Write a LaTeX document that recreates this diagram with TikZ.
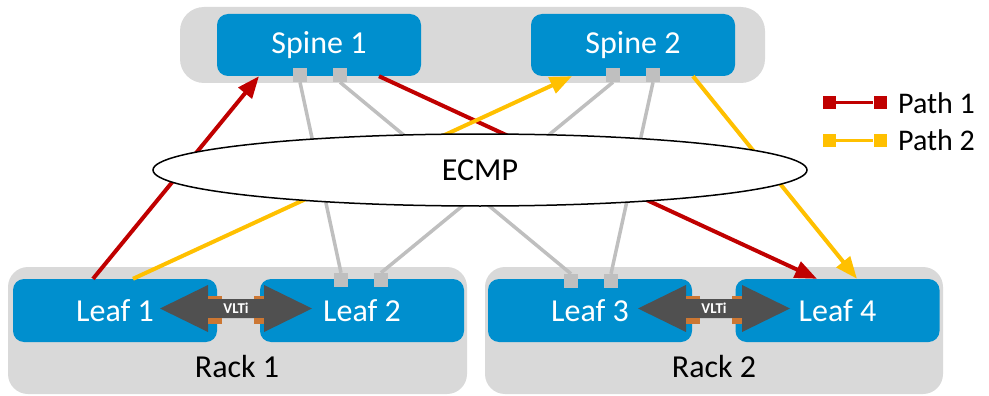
\documentclass[tikz,border=0pt]{standalone}
\usepackage{fontspec}
\setmainfont{Carlito}
\usetikzlibrary{shapes.geometric,arrows.meta,calc}
\definecolor{boxblue}{RGB}{0,143,206}
\definecolor{grpgray}{RGB}{217,217,217}
\definecolor{linkgray}{RGB}{191,191,191}
\definecolor{pathred}{RGB}{192,0,0}
\definecolor{pathyellow}{RGB}{255,192,0}
\definecolor{vltigray}{RGB}{80,80,80}
\definecolor{vltiorange}{RGB}{204,119,51}
\tikzset{
  vlti/.pic={
    \fill[vltigray] (-76,0) -- (-28,-23.5) -- (-28,-9.5) -- (28,-9.5) -- (28,-23.5) -- (76,0)
      -- (28,23.5) -- (28,9.5) -- (-28,9.5) -- (-28,23.5) -- cycle;
    \fill[vltiorange] (-28,-12.5) rectangle (-14,-9.5);
    \fill[vltiorange] (18,-12.5) rectangle (28,-9.5);
    \fill[vltiorange] (-28,9.5) rectangle (-14,15);
    \fill[vltiorange] (18,9.5) rectangle (28,15);
    \node[text=white, font=\bfseries\fontsize{15}{17}\selectfont, inner sep=0pt] (lbl) at (0,0) {VLTi};
  }
}
\begin{document}
\begin{tikzpicture}[x=1pt,y=-1pt,
  devbox/.style={fill=boxblue, draw=none, rounded corners=11pt, minimum width=204pt,
    minimum height=62pt, text=white, font=\fontsize{32}{38}\selectfont, inner sep=0pt},
  port/.style={fill=linkgray, draw=none, minimum size=14pt, inner sep=0pt},
  link/.style={draw=linkgray, line width=3.5pt},
  redpath/.style={draw=pathred, line width=4pt, -{Triangle[length=22pt,width=17pt]}},
  yelpath/.style={draw=pathyellow, line width=4pt, -{Triangle[length=22pt,width=17pt]}},
  biglabel/.style={font=\fontsize{32}{38}\selectfont, inner sep=0pt},
  lsq/.style={minimum size=13pt, inner sep=0pt, draw=none}
]
\useasboundingbox (0,0) rectangle (989,396);

% group backgrounds
\fill[grpgray, rounded corners=24pt] (180,7) rectangle (765,83);
\fill[grpgray, rounded corners=20pt] (8,267) rectangle (467,394);
\fill[grpgray, rounded corners=20pt] (485,267) rectangle (943,394);

% devices
\node[devbox] (s1) at (319,45) {Spine 1};
\node[devbox] (s2) at (633,45) {Spine 2};
\node[devbox, minimum height=63pt] (l1) at (115,310.5) {Leaf 1};
\node[devbox, minimum height=63pt] (l2) at (362,310.5) {Leaf 2};
\node[devbox, minimum height=63pt] (l3) at (590,310.5) {Leaf 3};
\node[devbox, minimum height=63pt] (l4) at (837.5,310.5) {Leaf 4};

% ports
\node[port] (s1a) at (300,75) {};
\node[port] (s1b) at (340,75) {};
\node[port] (s2a) at (613,75) {};
\node[port] (s2b) at (653,75) {};
\node[port] (l2a) at (341,280) {};
\node[port] (l2b) at (381,280) {};
\node[port] (l3a) at (571,281) {};
\node[port] (l3b) at (611,281) {};

% gray links
\draw[link] (s1a.south) -- (l2a.north);
\draw[link] (s1b.south) -- (l3a.north);
\draw[link] (s2a.south) -- (l2b.north);
\draw[link] (s2b.south) -- (l3b.north);

% paths
\draw[redpath] ([xshift=-22pt]l1.north) -- ([xshift=-60pt]s1.south);
\draw[redpath] ([xshift=60pt]s1.south) -- ([xshift=-20.5pt]l4.north);
\draw[yelpath] ([xshift=18pt]l1.north) -- ([xshift=-61pt]s2.south);
\draw[yelpath] ([xshift=60pt]s2.south) -- ([xshift=19.5pt]l4.north);

% ECMP
\node[ellipse, draw=black, line width=1.5pt, fill=white, minimum width=654pt,
  minimum height=72pt, inner sep=0pt, font=\fontsize{32}{38}\selectfont] (ecmp) at (480,170) {ECMP};

% VLTi
\pic (v1) at (236,308.5) {vlti};
\pic (v2) at (714,308.5) {vlti};

% rack labels
\node[biglabel] (r1) at (237,367) {Rack 1};
\node[biglabel] (r2) at (714,367) {Rack 2};

% legend
\node[lsq, fill=pathred] (lr1) at (829.5,102.5) {};
\node[lsq, fill=pathred] (lr2) at (880,102.5) {};
\draw[pathred, line width=3pt] (lr1) -- (lr2);
\node[lsq, fill=pathyellow] (ly1) at (829.5,140) {};
\node[lsq, fill=pathyellow] (ly2) at (880,140) {};
\draw[pathyellow, line width=3pt] (ly1) -- (ly2);
\node[biglabel, anchor=west, font=\fontsize{30}{36}\selectfont] (t1) at (898,103) {Path 1};
\node[biglabel, anchor=west, font=\fontsize{30}{36}\selectfont] (t2) at (898,140) {Path 2};
\end{tikzpicture}
\end{document}
